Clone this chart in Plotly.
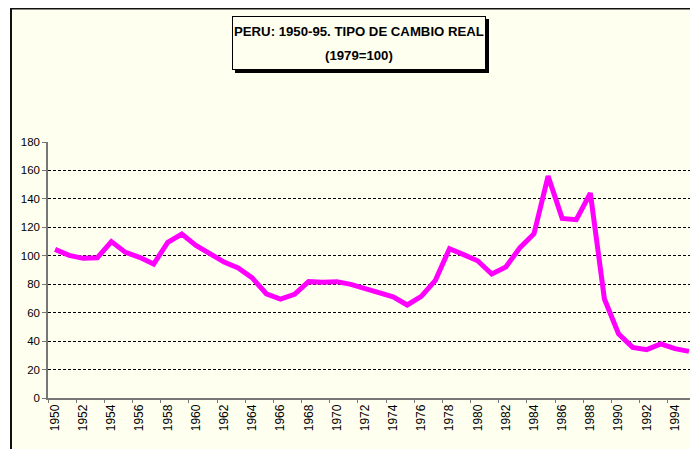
import plotly.graph_objects as go

years = list(range(1950, 1996))
tcr = [104.5, 100.3, 98.2, 98.6, 110.0, 102.4, 98.9, 94.2, 109.4, 115.3,
       107.3, 101.0, 95.6, 91.4, 84.4, 73.3, 69.6, 72.9, 81.8, 81.3,
       81.8, 79.9, 77.0, 74.7, 71.2, 65.4, 71.5, 82.7, 105.0, 100.8,
       96.5, 87.2, 92.1, 105.7, 115.5, 156.0, 126.3, 125.4, 144.0, 69.6,
       45.2, 35.6, 34.0, 38.0, 34.7, 32.8]
label_years = [y for y in years[::2] if y <= 1994]
tick_bounds = [y - 0.5 for y in years[::2]] + [years[-1] + 0.5]
y_ticks = list(range(0, 181, 20))

title_line1 = "<b>PERU: 1950-95. TIPO DE CAMBIO REAL</b>"
title_line2 = "<b>(1979=100)</b>"

IVORY = "#FFFFF0"
AXIS_GRAY = "#777777"
FONT = "Liberation Sans, Arial, sans-serif"

fig = go.Figure()
fig.add_trace(go.Scatter(x=years, y=tcr, mode="lines",
                         line=dict(color="#FF00FF", width=5),
                         hoverinfo="skip", showlegend=False))
# invisible trace carrying the tick-mark axis
fig.add_trace(go.Scatter(x=[years[0]], y=[tcr[0]], xaxis="x2", mode="lines",
                         line=dict(width=0), hoverinfo="skip", showlegend=False))

box = dict(xref="paper", yref="paper", x=0.4795, y=1.387,
           xanchor="center", yanchor="middle", showarrow=False,
           width=250, height=50, borderpad=1, borderwidth=1,
           bordercolor="black", text=" ")
txt = dict(xref="paper", yref="paper", x=0.4795, y=1.387,
           xanchor="center", yanchor="middle", showarrow=False,
           font=dict(family=FONT, size=13.2, color="black"))

fig.update_layout(
    width=690, height=441,
    margin=dict(l=40, r=2, t=134, b=51),
    paper_bgcolor="white",
    plot_bgcolor=IVORY,
    font=dict(family=FONT, color="black"),
    xaxis=dict(range=[years[0] - 0.5, years[-1] + 0.5],
               tickmode="array", tickvals=label_years,
               ticktext=[str(y) for y in label_years],
               tickangle=-90, ticks="", showgrid=False,
               showline=True, linecolor=AXIS_GRAY, linewidth=1.5,
               tickfont=dict(size=12, family=FONT, color="black"),
               zeroline=False, fixedrange=True),
    xaxis2=dict(range=[years[0] - 0.5, years[-1] + 0.5], overlaying="x",
                anchor="y", side="bottom",
                tickmode="array", tickvals=tick_bounds,
                ticks="outside", ticklen=4, tickwidth=1.2, tickcolor=AXIS_GRAY,
                showticklabels=False, showgrid=False, showline=False,
                zeroline=False),
    yaxis=dict(range=[0, 180], tickmode="array", tickvals=y_ticks,
               ticks="outside", ticklen=4, tickwidth=1.2, tickcolor=AXIS_GRAY,
               showgrid=True, gridcolor="black", gridwidth=1,
               griddash="3px,2px",
               showline=True, linecolor=AXIS_GRAY, linewidth=1.5,
               zeroline=False,
               tickfont=dict(size=11.5, family=FONT, color="black")),
    shapes=[dict(type="rect", xref="paper", yref="paper",
                 x0=-0.0571, x1=1.3, y0=-0.5, y1=1.5215,
                 fillcolor=IVORY, line=dict(color="#111111", width=2),
                 layer="below")],
    annotations=[
        dict(box, bgcolor="black", xshift=3, yshift=-3),
        dict(box, bgcolor=IVORY),
        dict(txt, text=title_line1, yshift=11.5),
        dict(txt, text=title_line2, yshift=-12.5),
    ],
)

fig.write_html("out.html")
